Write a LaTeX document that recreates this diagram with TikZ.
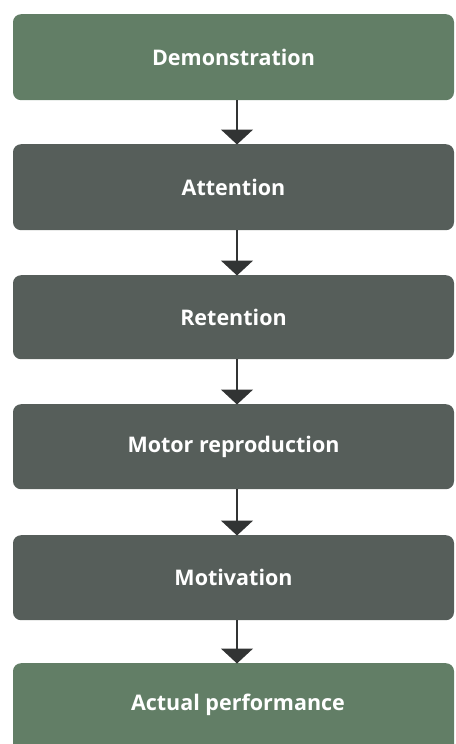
\documentclass[tikz,border=0pt]{standalone}
\usepackage{fontspec}
\setmainfont{Open Sans}
\usetikzlibrary{arrows.meta}
\definecolor{boxgreen}{RGB}{98,126,102}
\definecolor{boxdark}{RGB}{86,94,90}
\definecolor{arrowcol}{RGB}{50,52,52}
\tikzset{
  labelfont/.style={text=white, font=\fontsize{21.5}{25}\selectfont\bfseries},
  stepbox/.style={rectangle, rounded corners=8pt, minimum width=441pt, inner sep=0pt,
    labelfont, anchor=north},
  greenbox/.style={stepbox, fill=boxgreen},
  darkbox/.style={stepbox, fill=boxdark},
  flow/.style={draw=arrowcol, line width=1.6pt, -{Triangle[width=32pt,length=15pt]}, shorten >=-0.5pt}
}
\begin{document}
\begin{tikzpicture}[x=1pt,y=1pt]
\useasboundingbox (0,0) rectangle (455,-744);
\node[greenbox, minimum height=86pt] (b1) at (233.5,-14) {Demonstration};
\node[darkbox, minimum height=86pt] (b2) at (233.5,-144) {Attention};
\node[darkbox, minimum height=84pt] (b3) at (233.5,-275) {Retention};
\node[darkbox, minimum height=85pt] (b4) at (233.5,-404) {Motor reproduction};
\node[darkbox, minimum height=85pt] (b5) at (233.5,-535) {Motivation};
\begin{scope}
\clip (0,0) rectangle (455,-744);
\node[greenbox, minimum height=90pt] (b6) at (233.5,-663) {};
\end{scope}
\node[labelfont] (t6) at (238,-705) {Actual performance};
\draw[flow] (b1.south -| 237,0) -- (b2.north -| 237,0);
\draw[flow] (b2.south -| 237,0) -- (b3.north -| 237,0);
\draw[flow] (b3.south -| 237,0) -- (b4.north -| 237,0);
\draw[flow] (b4.south -| 237,0) -- (b5.north -| 237,0);
\draw[flow] (b5.south -| 237,0) -- (b6.north -| 237,0);
\end{tikzpicture}
\end{document}
